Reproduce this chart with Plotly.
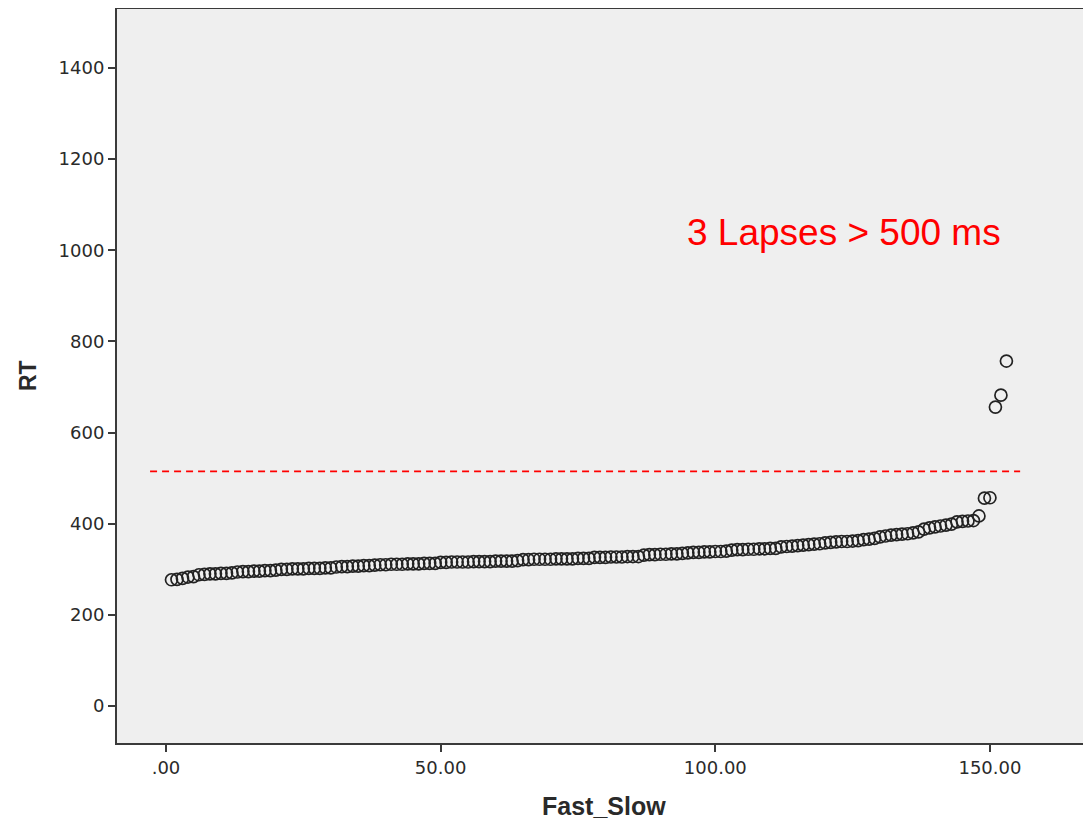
import plotly.graph_objects as go

# Data (sorted RTs, ms)
rank = list(range(1, 154))
rt = [277, 278,
      280,
      283, 284,
      288, 289, 290, 290, 291, 291, 292,
      294, 295, 295, 296, 296, 297, 297, 298,
      300, 300, 301, 301, 301, 302, 302, 302, 303, 303,
      305, 306, 306, 307, 307, 308, 308, 309,
      310, 310, 311, 311, 311, 312, 312, 312, 313, 313, 313,
      315, 315, 316, 316, 316, 316, 317, 317, 317, 317, 318, 318, 318, 318, 319,
      321, 321, 322, 322, 322, 322, 323, 323, 323, 323, 324, 324, 324,
      326, 326, 326, 327, 327, 327, 328, 328, 328,
      331, 332, 332, 333, 333, 334, 334, 335,
      336, 337, 337, 338, 338, 339, 339, 340,
      342, 343, 343, 344, 344, 345, 345, 346, 346,
      349, 350, 351, 352, 353, 354, 355, 356,
      358, 359, 360, 361, 361, 362, 363,
      365, 366, 368,
      371, 373, 375, 376, 377, 378, 380, 382,
      388, 391, 393, 395, 397, 399,
      404, 405, 406, 407,
      417,
      456, 457,
      656,
      682,
      757]

threshold_x = [-2.9, 155.5]
threshold_y = [515, 515]

x_tickvals = [0, 50, 100, 150]
x_ticktext = [".00", "50.00", "100.00", "150.00"]
y_tickvals = [0, 200, 400, 600, 800, 1000, 1200, 1400]
y_ticktext = ["0", "200", "400", "600", "800", "1000", "1200", "1400"]

annotation_text = "3 Lapses > 500 ms"

fig = go.Figure()
fig.add_trace(go.Scatter(
    x=threshold_x, y=threshold_y, mode="lines",
    line=dict(color="#FF0000", width=1.8, dash="7px,5px"),
    hoverinfo="skip", showlegend=False))
fig.add_trace(go.Scatter(
    x=rank, y=rt, mode="markers",
    marker=dict(symbol="circle-open", size=12, color="#222222",
                line=dict(width=1.7, color="#222222")),
    showlegend=False))

tickfont = dict(family="DejaVu Sans", size=18, color="#2a2a2a")
fig.update_layout(
    width=1083, height=816,
    margin=dict(l=109, r=0, t=1, b=81, autoexpand=False),
    paper_bgcolor="white", plot_bgcolor="#EFEFEF",
    xaxis=dict(range=[-8.92, 168.4], tickvals=x_tickvals, ticktext=x_ticktext,
               showgrid=False, zeroline=False, showline=True, mirror=True,
               linecolor="#3a3a3a", linewidth=2, ticks="outside", ticklen=7,
               tickwidth=2, tickcolor="#3a3a3a", tickfont=tickfont, automargin=False),
    yaxis=dict(range=[-81.2, 1529.5], tickvals=y_tickvals, ticktext=y_ticktext,
               showgrid=False, zeroline=False, showline=True,
               linecolor="#3a3a3a", linewidth=2, ticks="outside", ticklen=7,
               tickwidth=2, tickcolor="#3a3a3a", tickfont=tickfont, automargin=False),
    annotations=[
        dict(text=annotation_text, x=123.4, y=1040, xref="x", yref="y",
             showarrow=False, xanchor="center", yanchor="middle",
             font=dict(family="Liberation Sans", size=37, color="#FF0000")),
        dict(text="<b>RT</b>", x=0, y=0.5, xref="paper", yref="paper",
             xshift=-89, textangle=-90, showarrow=False,
             xanchor="center", yanchor="middle",
             font=dict(family="Liberation Sans", size=23, color="#2a2a2a")),
        dict(text="<b>Fast_Slow</b>", x=0.5, y=0, xref="paper", yref="paper",
             yshift=-63, showarrow=False, xanchor="center", yanchor="middle",
             font=dict(family="Liberation Sans", size=25, color="#2a2a2a")),
    ],
)

fig.write_html("out.html")
